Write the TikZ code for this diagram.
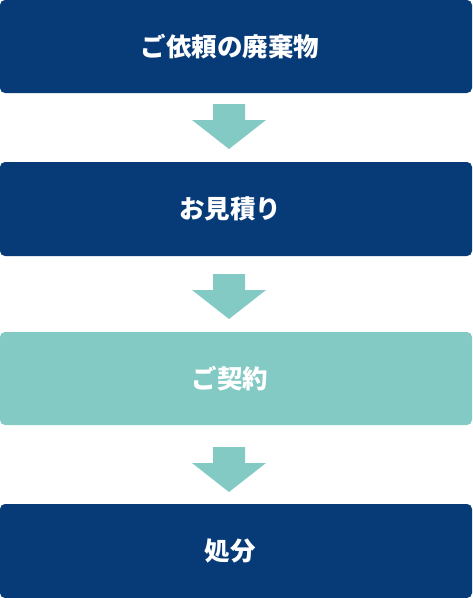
\documentclass[tikz,border=0pt]{standalone}
\usepackage{fontspec}
\newfontfamily\jpfont{Noto Sans CJK JP}
\usepackage{tikz}
\definecolor{navyblue}{RGB}{6,59,120}
\definecolor{paleteal}{RGB}{132,202,196}

\begin{document}
\begin{tikzpicture}[x=1pt,y=-1pt,
    steplabel/.style={text=white,font=\jpfont\bfseries\fontsize{25.5}{25.5}\selectfont,inner sep=0pt}]
            \useasboundingbox (0,0) rectangle (472,598);
            \fill [navyblue,rounded corners=5] (0,0) rectangle (472,93);
            \fill [navyblue,rounded corners=5] (0,162) rectangle (472,256);
            \fill [paleteal,rounded corners=5] (0,332) rectangle (472,425);
            \fill [navyblue,rounded corners=5] (0,504) rectangle (472,598);
            \foreach \t in {104,274,447}
              \fill [paleteal] (213,\t) -- (245,\t) -- (245,\t+16) -- (266,\t+16)
                -- (229,\t+45) -- (192,\t+16) -- (213,\t+16) -- cycle;
          \node [steplabel] (irai) at (230,46.5) {ご依頼の廃棄物};
          \node [steplabel] (mitsumori) at (230,209) {お見積り};
          \node [steplabel] (keiyaku) at (230,378.5) {ご契約};
          \node [steplabel] (shobun) at (230,551) {処分};
        \end{tikzpicture}
\end{document}
